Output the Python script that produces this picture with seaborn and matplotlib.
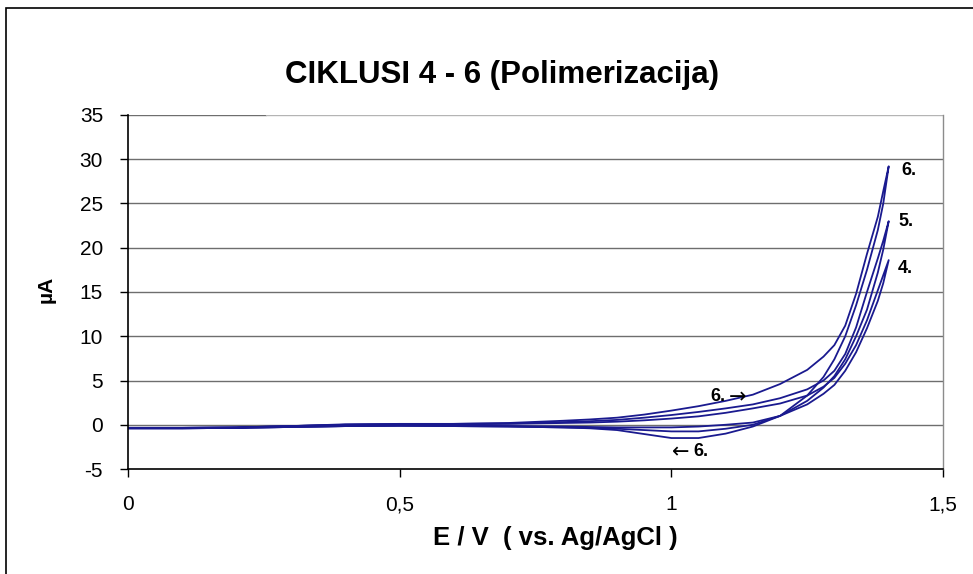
import numpy as np
import pandas as pd
import matplotlib
matplotlib.use("Agg")
import matplotlib.pyplot as plt
import seaborn as sns

# potential grid (V) used for both scan directions
E_grid = [0.0, 0.1, 0.2, 0.3, 0.4, 0.5, 0.6, 0.7, 0.8, 0.85, 0.9, 0.95, 1.0,
          1.05, 1.1, 1.15, 1.2, 1.25, 1.28, 1.3, 1.32, 1.34, 1.36, 1.38, 1.39, 1.4]

# current (uA), forward and reverse scan for each cycle
cyc4_fwd = [-0.35, -0.35, -0.3, -0.15, 0.0, 0.05, 0.05, 0.1, 0.2, 0.25, 0.35, 0.5, 0.7,
            0.95, 1.35, 1.85, 2.4, 3.3, 4.3, 5.3, 6.9, 9.0, 11.8, 15.2, 16.9, 18.6]
cyc4_rev = [-0.4, -0.4, -0.35, -0.25, -0.15, -0.1, -0.1, -0.15, -0.2, -0.25, -0.3, -0.3, -0.3,
            -0.2, 0.0, 0.25, 1.0, 2.3, 3.5, 4.5, 6.1, 8.2, 10.9, 14.0, 16.0, 18.6]
cyc5_fwd = [-0.35, -0.35, -0.3, -0.15, 0.0, 0.05, 0.1, 0.15, 0.3, 0.4, 0.55, 0.8, 1.1,
            1.45, 1.85, 2.3, 3.0, 4.0, 5.0, 6.1, 8.0, 11.0, 15.0, 18.8, 20.8, 23.0]
cyc5_rev = [-0.4, -0.4, -0.35, -0.25, -0.15, -0.1, -0.15, -0.2, -0.3, -0.35, -0.45, -0.6, -0.75,
            -0.75, -0.45, 0.0, 1.0, 2.7, 4.2, 5.5, 7.4, 10.0, 13.0, 17.2, 19.8, 23.0]
cyc6_fwd = [-0.35, -0.35, -0.3, -0.15, 0.05, 0.1, 0.1, 0.2, 0.45, 0.6, 0.8, 1.15, 1.6,
            2.1, 2.7, 3.4, 4.6, 6.2, 7.7, 9.0, 11.2, 14.8, 19.3, 23.5, 26.4, 29.2]
cyc6_rev = [-0.4, -0.4, -0.35, -0.25, -0.15, -0.1, -0.15, -0.2, -0.3, -0.4, -0.6, -1.05, -1.5,
            -1.5, -1.0, -0.2, 1.0, 3.3, 5.4, 7.4, 10.0, 13.5, 17.5, 22.0, 25.0, 29.2]

x_ticks = [0, 0.5, 1, 1.5]
x_tick_labels = ["0", "0,5", "1", "1,5"]
y_ticks = [-5, 0, 5, 10, 15, 20, 25, 30, 35]
y_tick_labels = ["-5", "0", "5", "10", "15", "20", "25", "30", "35"]

rows = []
for name, fwd, rev in [("4", cyc4_fwd, cyc4_rev), ("5", cyc5_fwd, cyc5_rev), ("6", cyc6_fwd, cyc6_rev)]:
    path_E = list(E_grid) + list(E_grid[::-1])
    path_I = list(fwd) + list(rev[::-1])
    for k, (e, i) in enumerate(zip(path_E, path_I)):
        rows.append({"cycle": name, "step": k, "E": e, "I": i})
df = pd.DataFrame(rows)

sns.set_theme(style="white")
plt.rcParams['font.family'] = ['Liberation Sans', 'DejaVu Sans']
plt.rcParams['text.color'] = 'black'
plt.rcParams['axes.labelcolor'] = 'black'
plt.rcParams['xtick.color'] = 'black'
plt.rcParams['ytick.color'] = 'black'

fig = plt.figure(figsize=(9.73, 5.74), dpi=100)
ax = fig.add_axes([0.1316, 0.1829, 0.8376, 0.6168])

# outer chart frame (only top and left edges are visible)
fig.patches.append(plt.Rectangle((6 / 973, -0.2), 1.2, 1.2 - 8 / 574, transform=fig.transFigure,
                                 fill=False, edgecolor="black", linewidth=1.2))

for yv in y_ticks[1:-1]:
    ax.axhline(yv, color="#6e6e6e", linewidth=1.0, zorder=0)
ax.axhline(35, xmin=0, xmax=0.169, color="#6e6e6e", linewidth=1.0, zorder=0)
ax.axhline(35, xmin=0.169, xmax=1, color="#b4b4b4", linewidth=1.0, zorder=0)

sns.lineplot(data=df, x="E", y="I", units="cycle", estimator=None, sort=False,
             color="#1a1a8f", linewidth=1.3, ax=ax)

ax.set_xlim(0, 1.5)
ax.set_ylim(-5, 35)
ax.set_xticks(x_ticks)
ax.set_xticklabels(x_tick_labels)
ax.set_yticks(y_ticks)
ax.set_yticklabels(y_tick_labels)
ax.tick_params(axis="x", direction="out", length=6, width=1, pad=13, labelsize=15, colors="black", bottom=True)
ax.tick_params(axis="y", direction="out", length=6, width=1, pad=12, labelsize=15, colors="black", left=True)
ax.set_xlabel("")
ax.set_ylabel("")

for s in ["left", "bottom"]:
    ax.spines[s].set_color("black")
    ax.spines[s].set_linewidth(1.2)
ax.spines["top"].set_visible(False)
ax.spines["right"].set_color("#8c8c8c")
ax.spines["right"].set_linewidth(1.0)

# cycle labels
lab = dict(fontsize=13, fontweight="bold", ha="center", va="center")
arr = dict(fontsize=15, family="DejaVu Sans", ha="center", va="center")
ax.text(1.437, 28.7, "6.", **lab)
ax.text(1.432, 23.0, "5.", **lab)
ax.text(1.430, 17.6, "4.", **lab)
ax.text(1.085, 3.2, "6.", **lab)
ax.text(1.122, 3.1, "\u2192", **arr)
ax.text(1.054, -3.05, "6.", **lab)
ax.text(1.018, -3.15, "\u2190", **arr)

fig.text(0.5156, 0.855, "CIKLUSI 4 - 6 (Polimerizacija)", fontsize=22.5, fontweight="bold",
         ha="center", va="baseline")
fig.text(0.571, 0.0505, "E / V  ( vs. Ag/AgCl )", fontsize=18.5, fontweight="bold",
         ha="center", va="baseline")
fig.text(0.0473, 0.4965, "\u00b5A", fontsize=15, fontweight="bold", rotation=90,
         ha="center", va="center")

fig.savefig("out.png", dpi=100)
